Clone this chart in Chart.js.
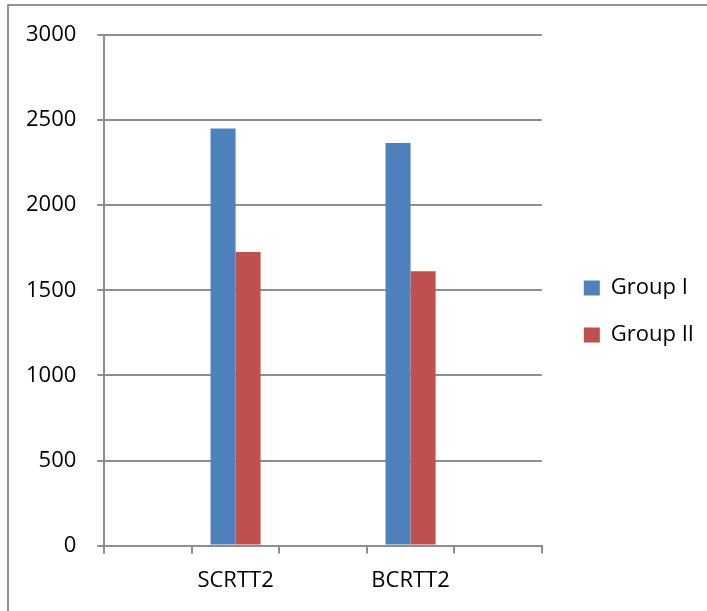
<!DOCTYPE html>
<html>
<head>
<meta charset="utf-8">
<script src="https://cdn.jsdelivr.net/npm/chart.js@4/dist/chart.umd.min.js"></script>
<style>
  html, body { margin: 0; padding: 0; background: #fff; }
  #wrap { width: 707px; height: 611px; position: relative; }
</style>
</head>
<body>
<div id="wrap"><canvas id="rttChart"></canvas></div>
<script>
// kategori kosong di antara dipakai sebagai jarak seperti grafik aslinya
const categories = ["", "SCRTT2", "", "BCRTT2", ""];
const groupI = [null, 2450, null, 2365, null];
const groupII = [null, 1725, null, 1612, null];
const yTicks = [0, 500, 1000, 1500, 2000, 2500, 3000];

const gridColor = "#8e8e8e";
const font = { family: "'Open Sans', 'Liberation Sans', sans-serif", size: 22 };

// garis bingkai tipis di sekeliling gambar
const frame = {
    id: "frame",
    afterDraw(chart) {
        const ctx = chart.ctx;
        ctx.save();
        ctx.strokeStyle = "#6f6f6f";
        ctx.lineWidth = 1.5;
        ctx.strokeRect(8, 5, chart.width, chart.height);
        ctx.restore();
    }
};

// geser legenda sedikit ke kanan atas tanpa mengubah area plot
const legendShift = {
    id: "legendShift",
    afterLayout(chart) {
        const lg = chart.legend;
        if (lg) {
            lg.left += 17;
            lg.right += 17;
            lg.top -= 10;
            lg.bottom -= 10;
        }
    }
};

new Chart(document.getElementById("rttChart"), {
    type: "bar",
    data: {
        labels: categories,
        datasets: [
            { label: "Group I", data: groupI, backgroundColor: "#4F81BD" },
            { label: "Group II", data: groupII, backgroundColor: "#C0504D" }
        ]
    },
    options: {
        responsive: true,
        maintainAspectRatio: false,
        animation: false,
        skipNull: true,
        datasets: { bar: { categoryPercentage: 0.572, barPercentage: 1.0 } },
        layout: { padding: { left: 5, top: 35, bottom: 3, right: 20 } },
        plugins: {
            tooltip: { enabled: false },
            legend: {
                position: "right",
                labels: {
                    boxWidth: 16,
                    boxHeight: 15,
                    padding: 25,
                    color: "#000",
                    font: font
                }
            }
        },
        scales: {
            x: {
                grid: {
                    offset: true,
                    drawOnChartArea: false,
                    drawTicks: true,
                    tickLength: 8,
                    color: gridColor,
                    lineWidth: 2
                },
                border: { color: gridColor, width: 2 },
                ticks: { color: "#000", font: font, padding: 14, maxRotation: 0, autoSkip: false }
            },
            y: {
                min: 0,
                max: 3000,
                afterBuildTicks(axis) {
                    axis.ticks = yTicks.map(v => ({ value: v }));
                },
                grid: { color: gridColor, lineWidth: 2, tickLength: 7 },
                border: { color: gridColor, width: 2 },
                ticks: { color: "#000", font: font, padding: 21, callback: v => String(v) }
            }
        }
    },
    plugins: [frame, legendShift]
});
</script>
</body>
</html>
